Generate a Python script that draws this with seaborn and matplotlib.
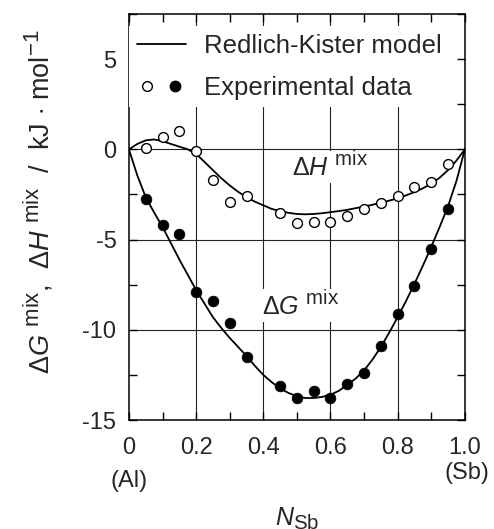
import numpy as np
import pandas as pd
import matplotlib
matplotlib.use("Agg")
import matplotlib.pyplot as plt
import matplotlib._mathtext as mathtext_internals
import seaborn as sns
from matplotlib.lines import Line2D
from matplotlib.legend_handler import HandlerTuple

# Redlich-Kister model curves
n_model = [0.0, 0.025, 0.05, 0.075, 0.1, 0.125, 0.15, 0.175, 0.2, 0.225,
           0.25, 0.275, 0.3, 0.325, 0.35, 0.375, 0.4, 0.425, 0.45, 0.475,
           0.5, 0.525, 0.55, 0.575, 0.6, 0.625, 0.65, 0.675, 0.7, 0.725,
           0.75, 0.775, 0.8, 0.825, 0.85, 0.875, 0.9, 0.925, 0.95, 0.975, 1.0]
dh_model = [0.0, 0.3, 0.5, 0.55, 0.45, 0.3, 0.15, 0.0, -0.25, -0.7,
            -1.15, -1.6, -2.0, -2.35, -2.65, -2.9, -3.1, -3.3, -3.42, -3.52,
            -3.58, -3.6, -3.58, -3.54, -3.48, -3.42, -3.35, -3.26, -3.17, -3.07,
            -2.96, -2.84, -2.71, -2.55, -2.37, -2.16, -1.9, -1.57, -1.15, -0.62, 0.0]
dg_model = [0.0, -1.45, -2.65, -3.5, -4.3, -5.2, -6.1, -6.95, -7.8, -8.55,
            -9.3, -9.9, -10.45, -10.95, -11.45, -12.0, -12.5, -12.9, -13.25, -13.5,
            -13.68, -13.78, -13.78, -13.72, -13.6, -13.38, -13.05, -12.7, -12.25, -11.65,
            -10.95, -10.15, -9.3, -8.4, -7.45, -6.45, -5.4, -4.3, -3.15, -1.75, 0.0]

# experimental points
n_exp = [0.05, 0.1, 0.15, 0.2, 0.25, 0.3, 0.35, 0.45, 0.5,
         0.55, 0.6, 0.65, 0.7, 0.75, 0.8, 0.85, 0.9, 0.95]
dh_exp = [0.1, 0.7, 1.0, -0.1, -1.7, -2.9, -2.6, -3.5, -4.1,
          -4.0, -4.0, -3.7, -3.3, -3.0, -2.6, -2.1, -1.8, -0.8]
dg_exp = [-2.75, -4.2, -4.7, -7.9, -8.4, -9.6, -11.5, -13.1, -13.8,
          -13.4, -13.8, -13.0, -12.4, -10.9, -9.1, -7.6, -5.5, -3.3]

x_ticks = [0, 0.2, 0.4, 0.6, 0.8, 1.0]
x_labels = ["0", "0.2", "0.4", "0.6", "0.8", "1.0"]
y_ticks = [-15, -10, -5, 0, 5]

model = pd.DataFrame({"N": n_model, "dH": dh_model, "dG": dg_model})
exp = pd.DataFrame({"N": n_exp, "dH": dh_exp, "dG": dg_exp})

sns.set_theme(style="ticks")
plt.rcParams["font.family"] = ["Liberation Sans", "DejaVu Sans"]
plt.rcParams["axes.unicode_minus"] = False
plt.rcParams["mathtext.fontset"] = "custom"
plt.rcParams["mathtext.rm"] = "Liberation Sans"
plt.rcParams["mathtext.it"] = "Liberation Sans:italic"
plt.rcParams["mathtext.bf"] = "Liberation Sans:bold"
# the "mix" superscripts are drawn larger than mathtext's default 0.7
mathtext_internals.SHRINK_FACTOR = 0.82

fig = plt.figure(figsize=(4.94, 5.29), dpi=100)
ax = fig.add_axes([0.261, 0.206, 0.680, 0.7675])

# grid lines
for yv in [0, -5, -10]:
    ax.axhline(yv, color="#222222", lw=0.8, zorder=0.5)
for xv in [0.2, 0.4, 0.6, 0.8]:
    ax.axvline(xv, color="#222222", lw=0.8, zorder=0.5)

sns.lineplot(data=model, x="N", y="dH", ax=ax, color="black", lw=1.3, zorder=2)
sns.lineplot(data=model, x="N", y="dG", ax=ax, color="black", lw=1.3, zorder=2)
sns.scatterplot(data=exp, x="N", y="dH", ax=ax, s=50, facecolor="white",
                edgecolor="black", linewidth=1.0, zorder=3)
sns.scatterplot(data=exp, x="N", y="dG", ax=ax, s=60, color="black",
                edgecolor="black", linewidth=0.5, zorder=3)

ax.set_xlim(0, 1.0)
ax.set_ylim(-15, 7.5)
ax.set_xticks(x_ticks)
ax.set_xticklabels(x_labels)
ax.set_xticks(np.arange(0, 1.01, 0.1), minor=True)
ax.set_yticks(y_ticks)
ax.set_yticks(np.arange(-15, 7.6, 2.5), minor=True)
ax.tick_params(which="both", direction="in", top=True, right=True,
               length=6, width=1, color="black")
ax.tick_params(axis="x", which="major", labelsize=17, pad=12)
ax.tick_params(axis="y", which="major", labelsize=17, pad=9)
for sp in ax.spines.values():
    sp.set_linewidth(1.1)
    sp.set_color("black")
ax.set_xlabel("")
ax.set_ylabel("")

bbox = dict(facecolor="white", edgecolor="none", pad=1)
ax.text(0.485, -1.5, r"$\Delta\mathit{H}^{\ \mathrm{mix}}$", fontsize=18,
        ha="left", va="baseline", bbox=bbox, zorder=2.5)
ax.text(0.395, -9.2, r"$\Delta\mathit{G}^{\ \mathrm{mix}}$", fontsize=18,
        ha="left", va="baseline", bbox=bbox, zorder=2.5)

h_line = Line2D([], [], color="black", lw=1.3)
h_open = Line2D([], [], ls="none", marker="o", ms=7, mfc="white", mec="black", mew=1.0)
h_fill = Line2D([], [], ls="none", marker="o", ms=7.5, mfc="black", mec="black")
leg = ax.legend([h_line, (h_open, h_fill)], ["Redlich-Kister model", "Experimental data"],
                handler_map={tuple: HandlerTuple(ndivide=None, pad=0.3)},
                loc="upper left", bbox_to_anchor=(-0.015, 0.982), fontsize=18.5,
                handlelength=1.9, handletextpad=0.7, labelspacing=0.68,
                borderaxespad=0.2, borderpad=0.3, frameon=True, fancybox=False)
leg.get_frame().set_facecolor("white")
leg.get_frame().set_edgecolor("none")
leg.get_frame().set_alpha(1.0)
leg.set_zorder(5)

fig.text(0.078, 1 - 202 / 529,
         r"$\mathit{\Delta G}^{\ \mathrm{mix}}$,  $\mathit{\Delta H}^{\ \mathrm{mix}}$  /  kJ $\cdot$ mol$^{-1}$",
         rotation=90, ha="center", va="center", fontsize=19.5)
fig.text(129 / 494, 1 - 481 / 529, "(Al)", ha="center", va="center", fontsize=17)
fig.text(467 / 494, 1 - 473 / 529, "(Sb)", ha="center", va="center", fontsize=17)
fig.text(297 / 494, 0.006, r"$\mathit{N}_{\mathrm{Sb}}$", ha="center", va="baseline", fontsize=18)

fig.savefig("out.png", dpi=100)
